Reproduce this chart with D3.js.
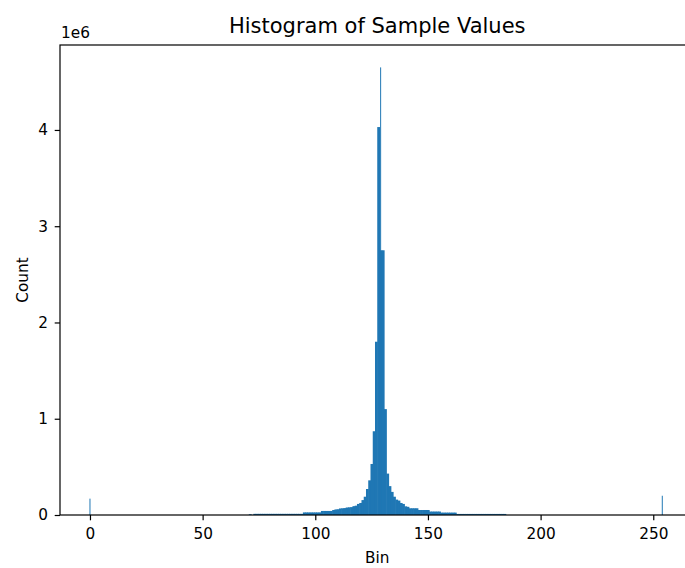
<!DOCTYPE html>
<html>
<head>
<meta charset="utf-8">
<script src="https://cdn.jsdelivr.net/npm/d3@7"></script>
<style>
  html, body { margin: 0; padding: 0; background: #fff; }
  svg { display: block; font-family: "DejaVu Sans", sans-serif; }
</style>
</head>
<body>
<svg id="chart" width="685" height="568"></svg>
<script>
// ---- Data ----
const binLabels = [71,
  73,74,75,76,77,78,79,80,81,82,83,84,85,86,87,88,89,90,91,92,93,94,
  95,96,97,98,99,100,101,102,
  103,104,105,106,107,
  108,109,110,111,112,113,114,115,116,117,118,
  119,120,121,122,123,124,125,126,127,128,129,130,131,132,133,134,135,136,137,138,139,140,141,
  142,143,144,145,146,147,148,149,150,151,152,153,154,155,
  156,157,158,159,160,161,162,
  163,164,165,166,167,168,169,170,171,172,173,174,175,176,177,178,179,180,181,182,183,184];
const binCounts = [8000,
  12000,12000,12000,12000,12000,12000,12000,12000,12000,12000,12000,12000,12000,12000,12000,12000,12000,12000,12000,12000,12000,12000,
  27000,27000,27000,27000,27000,27000,27000,27000,
  42000,42000,42000,42000,42000,
  52000,58000,60000,68000,70000,72000,78000,80000,82000,92000,97000,
  115000,125000,155000,190000,270000,360000,530000,870000,1800000,4030000,2750000,2750000,1100000,430000,300000,240000,190000,160000,150000,125000,115000,90000,85000,
  70000,70000,70000,70000,52000,52000,52000,52000,52000,36000,36000,36000,36000,36000,
  25000,25000,25000,25000,25000,25000,25000,
  11000,11000,11000,11000,11000,11000,11000,11000,11000,11000,11000,11000,11000,11000,11000,11000,11000,11000,11000,11000,11000,11000];
// narrow spikes at exact values
const spikeLabels = [0, 129, 254];
const spikeCounts = [170000, 4650000, 200000];
const xTicks = [0, 50, 100, 150, 200, 250];
const yTicks = [0, 1, 2, 3, 4];
const yExponent = 1e6;

// ---- Layout ----
const svg = d3.select("#chart");
const mLeft = 60, mRight = 694.5, mTop = 45, mBottom = 515;
const color = "#1f77b4";
const fs = "15.3px";

const x = d3.scaleLinear().domain([-13.3, 268.3]).range([mLeft, mRight]);
const yMax = d3.max(spikeCounts.concat(binCounts)) * 1.05;
const y = d3.scaleLinear().domain([0, yMax]).range([mBottom, mTop]);

// bars (slight overlap hides anti-aliasing seams)
const bars = binLabels.map((b, i) => ({ b, c: binCounts[i] }));
svg.append("g").selectAll("rect").data(bars).join("rect")
  .attr("x", d => x(d.b - 0.5))
  .attr("width", d => x(d.b + 0.5) - x(d.b - 0.5) + 0.6)
  .attr("y", d => y(d.c))
  .attr("height", d => y(0) - y(d.c))
  .attr("fill", color);

const spikes = spikeLabels.map((b, i) => ({ b, c: spikeCounts[i] }));
svg.append("g").selectAll("rect").data(spikes).join("rect")
  .attr("x", d => x(d.b - 0.22))
  .attr("width", d => x(d.b + 0.22) - x(d.b - 0.22))
  .attr("y", d => y(d.c))
  .attr("height", d => y(0) - y(d.c))
  .attr("fill", color);

// axes
const xAxis = d3.axisBottom(x).tickValues(xTicks).tickSize(5.3).tickPadding(8).tickFormat(d3.format("d"));
const gx = svg.append("g").attr("transform", `translate(0,${mBottom})`).call(xAxis);
const yAxis = d3.axisLeft(y).tickValues(yTicks.map(t => t * yExponent)).tickSize(5.3).tickPadding(6.7)
  .tickFormat(d => d3.format("d")(d / yExponent));
const gy = svg.append("g").attr("transform", `translate(${mLeft},0)`).call(yAxis);
[gx, gy].forEach(g => {
  g.select(".domain").remove();
  g.selectAll(".tick line").attr("stroke", "#000").attr("stroke-width", 1.2);
  g.selectAll(".tick text").attr("fill", "#000").style("font-size", fs).style("font-family", "DejaVu Sans");
});

// spines
svg.append("rect")
  .attr("x", mLeft).attr("y", mTop)
  .attr("width", mRight - mLeft).attr("height", mBottom - mTop)
  .attr("fill", "none").attr("stroke", "#000").attr("stroke-width", 1.2);

// labels
svg.append("text").attr("x", (mLeft + mRight) / 2).attr("y", 32.5)
  .attr("text-anchor", "middle").style("font-size", "21px").text("Histogram of Sample Values");
svg.append("text").attr("x", (mLeft + mRight) / 2).attr("y", 563)
  .attr("text-anchor", "middle").style("font-size", fs).text("Bin");
svg.append("text").attr("transform", `translate(27.5,${(mTop + mBottom) / 2}) rotate(-90)`)
  .attr("text-anchor", "middle").style("font-size", fs).text("Count");
svg.append("text").attr("x", mLeft + 1).attr("y", 38)
  .style("font-size", fs).text("1e6");
</script>
</body>
</html>
